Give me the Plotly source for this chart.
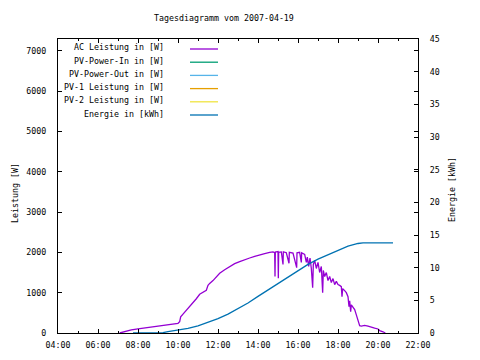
import plotly.graph_objects as go

DAY = "2007-04-19"

# AC Leistung [W]
ac_time = ["07:05","07:20","07:40","08:00","08:20","08:40","09:00","09:20","09:40","10:00",
           "10:05","10:08","10:15","10:25","10:35","10:45","10:55","11:05","11:15","11:25",
           "11:30","11:35","11:45","11:55","12:05","12:20","12:35","12:50","13:05","13:20",
           "13:35","13:50","14:05","14:20","14:35","14:45","14:50","14:51","14:52","15:00",
           "15:01","15:02","15:10","15:15","15:16","15:25","15:33","15:34","15:45","15:56",
           "15:57","16:05","16:10","16:11","16:20","16:25","16:28","16:32","16:36","16:40",
           "16:44","16:46","16:50","16:55","17:00","17:05","17:10","17:14","17:16","17:20",
           "17:25","17:30","17:35","17:40","17:45","17:50","17:55","18:00","18:05","18:10",
           "18:12","18:14","18:20","18:25","18:30","18:33","18:35","18:38","18:40","18:45",
           "18:50","18:55","19:00","19:05","19:10","19:20","19:30","19:40","19:50","20:00",
           "20:05","20:15","20:22"]
ac_power = [0,40,75,105,125,150,170,190,215,240,
            280,400,470,560,660,760,850,960,1010,1060,
            1180,1230,1300,1400,1480,1570,1650,1720,1770,1820,
            1860,1900,1940,1970,2000,2010,1990,1400,2010,2020,
            1360,2000,2010,1700,2010,1990,1730,2000,1980,1620,
            1990,2000,1750,1990,1950,1750,1880,1650,1860,1600,
            1120,1700,1800,1600,1750,1500,1650,1000,1550,1400,
            1500,1300,1400,1250,1350,1200,1280,1200,1180,1150,
            900,1100,1050,1000,900,650,800,530,700,650,
            580,450,300,180,170,190,170,140,120,100,
            60,30,0]

# Energie [kWh]
en_time = ["07:45","09:15","09:30","10:00","10:30","11:00","11:30","12:00","12:30","13:00",
           "13:30","14:00","14:30","15:00","15:30","16:00","16:30","17:00","17:30","18:00",
           "18:30","19:00","19:15","20:45"]
en_kwh = [0,0.05,0.2,0.4,0.7,1.1,1.6,2.2,2.9,3.7,
          4.6,5.6,6.6,7.6,8.6,9.6,10.5,11.3,12.0,12.7,
          13.3,13.7,13.8,13.8]

legend_labels = ["AC Leistung in [W]","PV-Power-In in [W]","PV-Power-Out in [W]",
                 "PV-1 Leistung in [W]","PV-2 Leistung in [W]","Energie in [kWh]"]
legend_colors = ["#9400D3","#009E73","#56B4E9","#E69F00","#F0E442","#0072B2"]

FONT = "DejaVu Sans Mono"
FS = 8.3

# plot area in window pixels (page has an 8 px body offset)
PL, PR, PT, PB = 58, 418, 39, 333
W, H = PR - PL, PB - PT

def px(xw):
    return (xw - PL) / W

def py(yw):
    return (PB - yw) / H

fig = go.Figure()
fig.add_trace(go.Scatter(x=[f"{DAY} {t}" for t in ac_time], y=ac_power, mode="lines",
                         line=dict(color=legend_colors[0], width=1.3), name=legend_labels[0]))
fig.add_trace(go.Scatter(x=[f"{DAY} {t}" for t in en_time], y=en_kwh, mode="lines", yaxis="y2",
                         line=dict(color=legend_colors[5], width=1.3), name=legend_labels[5]))

axis_common = dict(showgrid=False, zeroline=False, showline=True, linecolor="black", linewidth=1,
                   ticks="inside", tickcolor="black", ticklen=4,
                   tickfont=dict(family=FONT, size=FS, color="black"))

fig.update_layout(
    width=480, height=360,
    margin=dict(l=PL - 8, r=480 - (PR - 8), t=PT - 8, b=360 - (PB - 8), autoexpand=False),
    paper_bgcolor="white", plot_bgcolor="white",
    showlegend=False,
    xaxis=dict(**axis_common, type="date",
               range=[f"{DAY} 04:00", f"{DAY} 22:00"],
               dtick=7200000, tick0=f"{DAY} 04:00", tickformat="%H:%M",
               mirror="ticks", ticklabelstandoff=4,
               minor=dict(dtick=3600000, ticks="inside", ticklen=2, tickcolor="black")),
    yaxis=dict(**axis_common, range=[0, 7290], dtick=1000, mirror="ticks", ticklabelstandoff=9),
    yaxis2=dict(**axis_common, range=[0, 45], dtick=5, overlaying="y", side="right",
                ticklabelstandoff=9),
)

fig.add_annotation(text="Tagesdiagramm vom 2007-04-19", xref="paper", yref="paper",
                   x=px(224), y=py(18), showarrow=False,
                   font=dict(family=FONT, size=FS, color="black"), xanchor="center", yanchor="middle")
fig.add_annotation(text="Leistung [W]", xref="paper", yref="paper",
                   x=px(15), y=py(193), showarrow=False, textangle=-90,
                   font=dict(family=FONT, size=FS, color="black"), xanchor="center", yanchor="middle")
fig.add_annotation(text="Energie [kWh]", xref="paper", yref="paper",
                   x=px(452), y=py(190), showarrow=False, textangle=-90,
                   font=dict(family=FONT, size=FS, color="black"), xanchor="center", yanchor="middle")

for i, (lab, col) in enumerate(zip(legend_labels, legend_colors)):
    yc = 47.5 + i * 13.2
    fig.add_annotation(text=lab, xref="paper", yref="paper",
                       x=px(166), y=py(yc), showarrow=False,
                       font=dict(family=FONT, size=FS, color="black"), xanchor="right", yanchor="middle")
    fig.add_shape(type="line", xref="paper", yref="paper",
                  x0=px(190), x1=px(218), y0=py(yc + 1.5), y1=py(yc + 1.5),
                  line=dict(color=col, width=1.3))

fig.write_html("out.html")
